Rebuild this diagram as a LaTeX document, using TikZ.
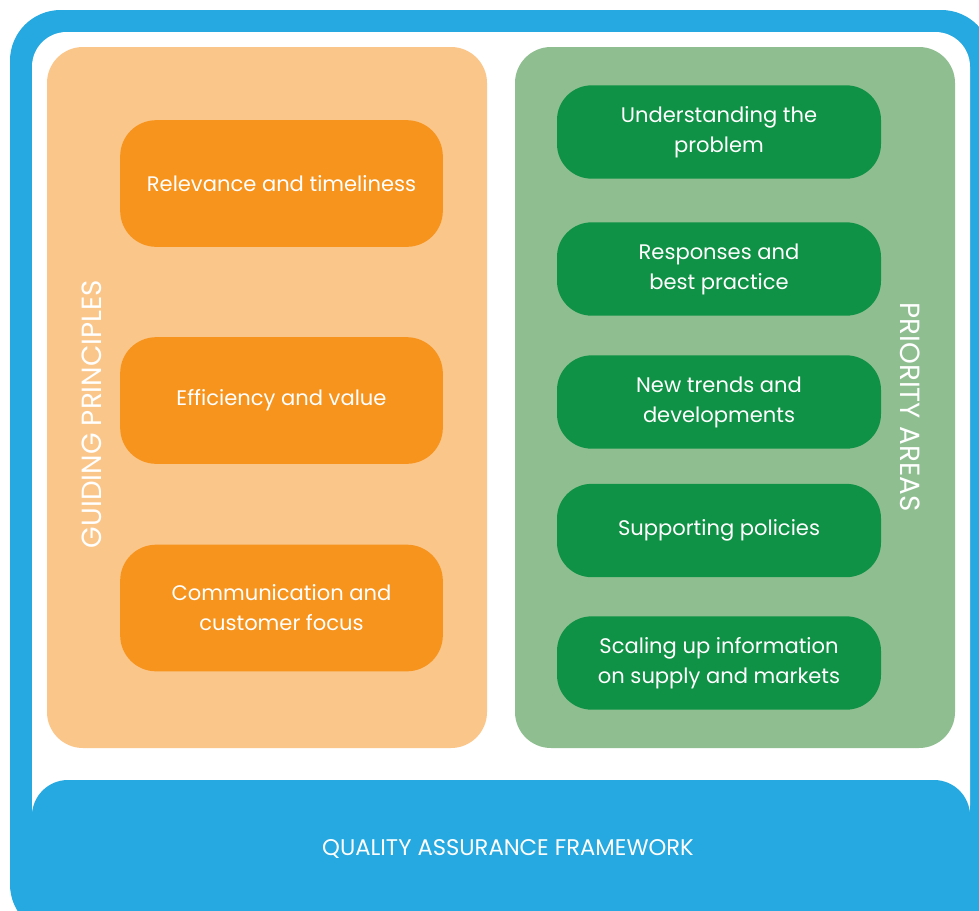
\documentclass[tikz,border=0pt]{standalone}
\usepackage{fontspec}
\setmainfont{Poppins}
\definecolor{qablue}{HTML}{25A9E0}
\definecolor{palegold}{HTML}{FBC68A}
\definecolor{deeporange}{HTML}{F7941E}
\definecolor{palegreen}{HTML}{8FBF91}
\definecolor{deepgreen}{HTML}{0F9245}

\tikzset{
  obox/.style={fill=deeporange, rounded corners=27pt, minimum width=242pt,
    minimum height=95pt, inner sep=0pt, text=white, align=center,
    font=\fontsize{15.8}{22.5}\selectfont},
  gbox/.style={fill=deepgreen, rounded corners=26pt, minimum width=243pt,
    minimum height=70pt, inner sep=0pt, text=white, align=center,
    font=\fontsize{15.8}{22.5}\selectfont},
  sidelabel/.style={text=white, font=\fontsize{20.8}{24}\selectfont},
  baselabel/.style={text=white, font=\fontsize{17}{20}\selectfont}
}

\begin{document}
\begin{tikzpicture}[x=0.75pt,y=-0.75pt]
\useasboundingbox (0,0) rectangle (979,911);
\begin{scope}
\clip (0,0) rectangle (979,911);
% frame
\fill[qablue, rounded corners=38pt] (10,10) rectangle (992,935);
\fill[white, rounded corners=26pt] (32,32) rectangle (970,840);
\fill[qablue, rounded corners=27pt] (32,780) rectangle (970,960);
\end{scope}
% panels
\fill[palegold, rounded corners=27pt] (47,47) rectangle (487,748);
\fill[palegreen, rounded corners=27pt] (515,47) rectangle (955,748);

\node[sidelabel, rotate=90] (guide) at (92,414) {GUIDING PRINCIPLES};
\node[sidelabel, rotate=-90] (prio) at (910,407) {PRIORITY AREAS};

\node[obox] (relev) at (281.5,183.5) {Relevance and timeliness};
\node[obox] (effic) at (281.5,400.5) {Efficiency and value};
\node[obox] (commu) at (281.5,608) {Communication and\\customer focus};

\node[gbox] (under) at (719,132) {Understanding the\\problem};
\node[gbox] (respo) at (719,269) {Responses and\\best practice};
\node[gbox] (trend) at (719,402) {New trends and\\developments};
\node[gbox] (suppo) at (719,530.5) {Supporting policies};
\node[gbox] (scale) at (719,663) {Scaling up information\\on supply and markets};

\node[baselabel] (qaf) at (508,849) {QUALITY ASSURANCE FRAMEWORK};
\end{tikzpicture}
\end{document}
